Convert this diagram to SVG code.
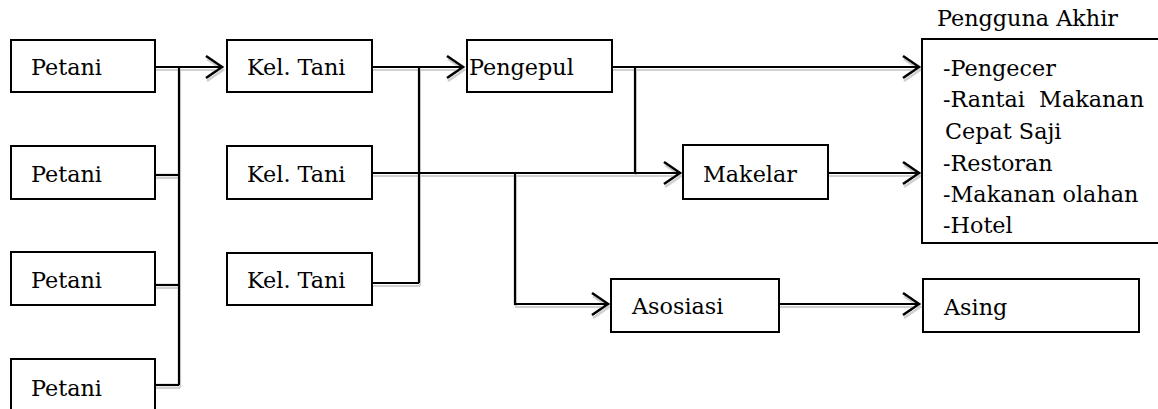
<svg xmlns="http://www.w3.org/2000/svg" width="1158" height="409" viewBox="0 0 1158 409">
<style>
.box{fill:#fff;stroke:#000;stroke-width:2}
.t{font-family:"DejaVu Serif","Liberation Serif",serif;font-size:22.3px;fill:#000;white-space:pre}
.c{fill:none;stroke:#000;stroke-width:2.2}
</style>
<defs>
<marker id="arr" markerUnits="userSpaceOnUse" markerWidth="24" markerHeight="28" viewBox="-20 -14 24 28" refX="0" refY="0" orient="auto">
<path d="M-16,-11 L0,0 L-16,11" fill="none" stroke="#000" stroke-width="2.6"/>
</marker>
<filter id="sh" x="-5%" y="-5%" width="110%" height="110%">
<feDropShadow dx="1" dy="3" stdDeviation="0.7" flood-color="#b0b0b0" flood-opacity="0.6"/>
</filter>
</defs>
<rect width="1158" height="409" fill="#fff"/>
<g id="connectors" filter="url(#sh)">
<path class="c" d="M155,67 H222" marker-end="url(#arr)"/>
<path class="c" d="M179,67 V385"/>
<path class="c" d="M155,175 H179"/>
<path class="c" d="M155,285 H179"/>
<path class="c" d="M155,385 H179"/>
<path class="c" d="M372,67 H463" marker-end="url(#arr)"/>
<path class="c" d="M419,67 V283"/>
<path class="c" d="M372,283 H419"/>
<path class="c" d="M372,173 H680" marker-end="url(#arr)"/>
<path class="c" d="M612,67 H919" marker-end="url(#arr)"/>
<path class="c" d="M635,67 V173"/>
<path class="c" d="M828,173 H919" marker-end="url(#arr)"/>
<path class="c" d="M515,173 V304 H608" marker-end="url(#arr)"/>
<path class="c" d="M779,304 H919" marker-end="url(#arr)"/>
</g>
<g id="petani1"><rect class="box" x="11" y="40" width="144" height="52"/><text class="t" x="31" y="75">Petani</text></g>
<g id="petani2"><rect class="box" x="11" y="146" width="144" height="53"/><text class="t" x="31" y="182">Petani</text></g>
<g id="petani3"><rect class="box" x="11" y="252" width="144" height="53"/><text class="t" x="31" y="288">Petani</text></g>
<g id="petani4"><rect class="box" x="11" y="359" width="144" height="60"/><text class="t" x="31" y="396">Petani</text></g>
<g id="keltani1"><rect class="box" x="227" y="40" width="145" height="52"/><text class="t" x="247" y="75">Kel. Tani</text></g>
<g id="keltani2"><rect class="box" x="227" y="146" width="145" height="53"/><text class="t" x="247" y="182">Kel. Tani</text></g>
<g id="keltani3"><rect class="box" x="227" y="253" width="145" height="52"/><text class="t" x="247" y="288">Kel. Tani</text></g>
<g id="pengepul"><rect class="box" x="467" y="40" width="145" height="52"/><text class="t" x="469" y="75">Pengepul</text></g>
<g id="makelar"><rect class="box" x="683" y="145" width="145" height="54"/><text class="t" x="703" y="182">Makelar</text></g>
<g id="asosiasi"><rect class="box" x="611" y="279" width="168" height="53"/><text class="t" x="632" y="314">Asosiasi</text></g>
<g id="asing"><rect class="box" x="923" y="279" width="216" height="53"/><text class="t" x="944" y="315">Asing</text></g>
<g id="pengguna">
<text class="t" x="937" y="26">Pengguna Akhir</text>
<rect class="box" x="922" y="39" width="250" height="204"/>
<text class="t" x="943" y="76">-Pengecer</text>
<text class="t" x="943" y="107" xml:space="preserve">-Rantai  Makanan</text>
<text class="t" x="945" y="139">Cepat Saji</text>
<text class="t" x="943" y="171">-Restoran</text>
<text class="t" x="943" y="202">-Makanan olahan</text>
<text class="t" x="943" y="233">-Hotel</text>
</g>
</svg>
